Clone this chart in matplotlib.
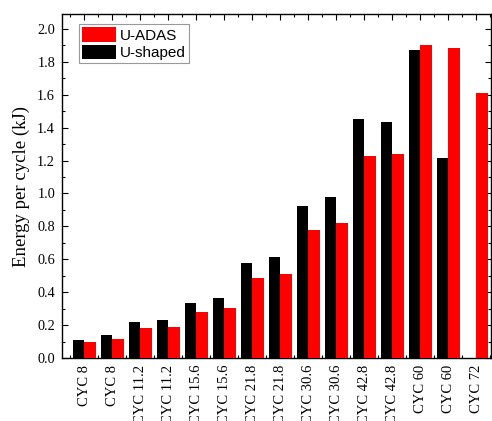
import matplotlib
matplotlib.use("Agg")
import matplotlib.pyplot as plt
import matplotlib.transforms as mtransforms
from matplotlib.ticker import MultipleLocator
import numpy as np

categories = ["CYC 8", "CYC 8", "CYC 11.2", "CYC 11.2", "CYC 15.6", "CYC 15.6",
              "CYC 21.8", "CYC 21.8", "CYC 30.6", "CYC 30.6", "CYC 42.8", "CYC 42.8",
              "CYC 60", "CYC 60", "CYC 72"]
u_shaped = [0.109, 0.138, 0.219, 0.229, 0.336, 0.365, 0.580, 0.612, 0.926, 0.981,
            1.453, 1.433, 1.872, 1.218, 0.0]
u_adas = [0.095, 0.113, 0.180, 0.187, 0.282, 0.304, 0.484, 0.509, 0.776, 0.819,
          1.228, 1.242, 1.903, 1.883, 1.613]

fig = plt.figure(figsize=(4.92, 4.21), dpi=100)
ax = fig.add_axes([0.126, 0.1496, 0.872, 0.817])

x = np.arange(len(categories))
w = 0.41
ax.bar(x - w / 2, u_shaped, width=w, color="black", label="U-shaped", zorder=3)
ax.bar(x + w / 2, u_adas, width=w, color="#ff0000", label="U-ADAS", zorder=3)

ax.set_xlim(-0.8, 14.52)
ax.set_ylim(0, 2.09)

serif = ["Liberation Serif", "DejaVu Serif"]
ax.set_xticks(x)
ax.set_xticklabels(categories, rotation=90, fontsize=10.5, family=serif)
offset = mtransforms.ScaledTranslation(4 / 100, 0, fig.dpi_scale_trans)
for lab in ax.get_xticklabels():
    lab.set_transform(lab.get_transform() + offset)
ax.xaxis.set_minor_locator(MultipleLocator(1, offset=0.5))
ax.yaxis.set_minor_locator(MultipleLocator(0.1))
yt = np.arange(0, 2.01, 0.2)
ax.set_yticks(yt)
ax.set_yticklabels([f"{v:.1f}" for v in yt], fontsize=10.3, family=serif)

ax.tick_params(which="both", direction="in", top=True, right=True, width=0.8)
ax.tick_params(which="major", length=4.5, pad=5)
ax.tick_params(which="minor", length=2.5)
for s in ax.spines.values():
    s.set_linewidth(1.0)

ax.set_ylabel("Energy per cycle (kJ)", fontsize=13.5, family=serif, labelpad=5)

handles, labels = ax.get_legend_handles_labels()
leg = ax.legend(handles[::-1], labels[::-1], loc="upper left", bbox_to_anchor=(0.04, 0.97),
                borderaxespad=0, fancybox=False, edgecolor="#999999", framealpha=1,
                prop={"family": ["Liberation Sans", "DejaVu Sans"], "size": 11},
                handlelength=2.2, handleheight=1.05, labelspacing=0.15,
                borderpad=0.2, handletextpad=0.25)
leg.get_frame().set_linewidth(0.8)

fig.savefig("out.png", dpi=100)
